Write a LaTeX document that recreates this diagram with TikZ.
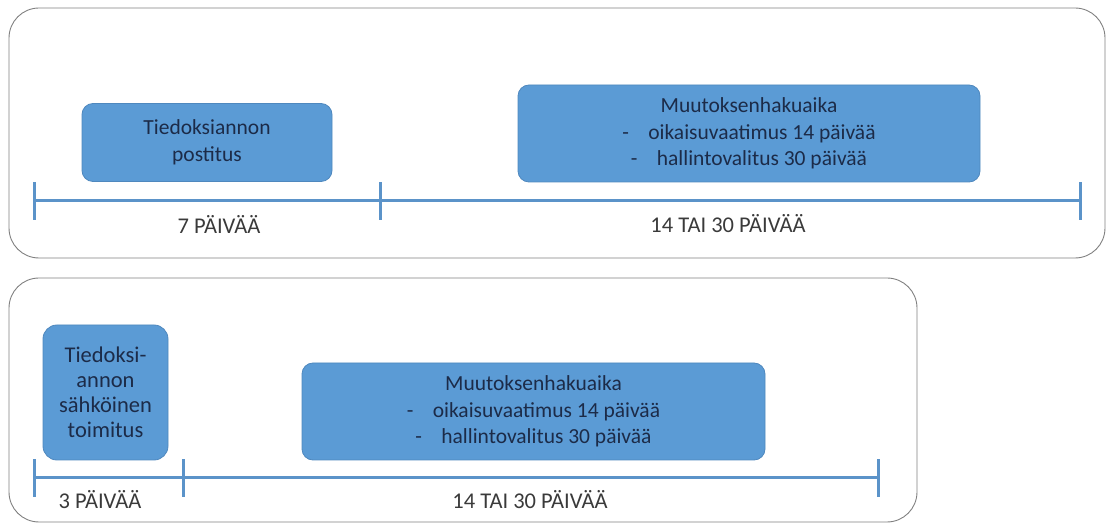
\documentclass[tikz,border=0pt]{standalone}
\usepackage{fontspec}
\setmainfont{Carlito}
\definecolor{boxblue}{HTML}{5B9BD5}
\definecolor{boxedge}{HTML}{4F88BE}
\definecolor{lineblue}{HTML}{5B93C9}
\definecolor{navy}{HTML}{1C2B48}
\definecolor{frame}{HTML}{808080}
\definecolor{lbl}{HTML}{3A3A3A}
\begin{document}
\begin{tikzpicture}[x=1pt,y=-1pt,
  outer/.style={draw=frame,line width=0.9pt,rounded corners=30pt},
  bluebox/.style={draw=boxedge,fill=boxblue,line width=0.8pt,rounded corners=11pt,
     text=navy,align=center,font=\fontsize{21.5}{26.5}\selectfont,inner sep=0pt},
  tl/.style={draw=lineblue,line width=3pt},
  tick/.style={draw=lineblue,line width=3pt},
  daylbl/.style={text=lbl,font=\fontsize{22.5}{26}\selectfont,inner sep=0pt}]
\useasboundingbox (0,0) rectangle (1109,526);
% outer frames
\draw[outer] (9,8) rectangle (1105,258);
\draw[outer] (9,278) rectangle (917,522);
% top row
\node[bluebox,minimum width=250pt,minimum height=78pt] (post) at (207,142.5)
  {Tiedoksiannon\\postitus};
\node[bluebox,minimum width=462pt,minimum height=97pt] (muut1) at (749,133.5)
  {Muutoksenhakuaika\\-\hspace{0.9em}oikaisuvaatimus 14 päivää\\-\hspace{0.9em}hallintovalitus 30 päivää};
\coordinate (t1) at (34,201);
\coordinate (t2) at (380,201);
\coordinate (t3) at (1080,201);
\draw[tl] (t1) -- (t2) -- (t3);
\foreach \c in {t1,t2,t3}{\draw[tick] ([yshift=-19pt]\c) -- ([yshift=19pt]\c);}
\node[daylbl] (d1) at (219,224) {7 PÄIVÄÄ};
\node[daylbl] (d2) at (728,224) {14 TAI 30 PÄIVÄÄ};
% bottom row
\node[bluebox,rounded corners=14pt,minimum width=125pt,minimum height=135pt,
  font=\fontsize{22.5}{25}\selectfont] (sahko) at (105.5,392.5)
  {Tiedoksi-\\annon\\sähköinen\\toimitus};
\node[bluebox,minimum width=463pt,minimum height=97pt] (muut2) at (533.5,411.5)
  {Muutoksenhakuaika\\-\hspace{0.9em}oikaisuvaatimus 14 päivää\\-\hspace{0.9em}hallintovalitus 30 päivää};
\coordinate (b1) at (34,478);
\coordinate (b2) at (183,478);
\coordinate (b3) at (878,478);
\draw[tl] (b1) -- (b2) -- (b3);
\foreach \c in {b1,b2,b3}{\draw[tick] ([yshift=-19pt]\c) -- ([yshift=19pt]\c);}
\node[daylbl] (d3) at (100,500) {3 PÄIVÄÄ};
\node[daylbl] (d4) at (530,500) {14 TAI 30 PÄIVÄÄ};
\end{tikzpicture}
\end{document}
